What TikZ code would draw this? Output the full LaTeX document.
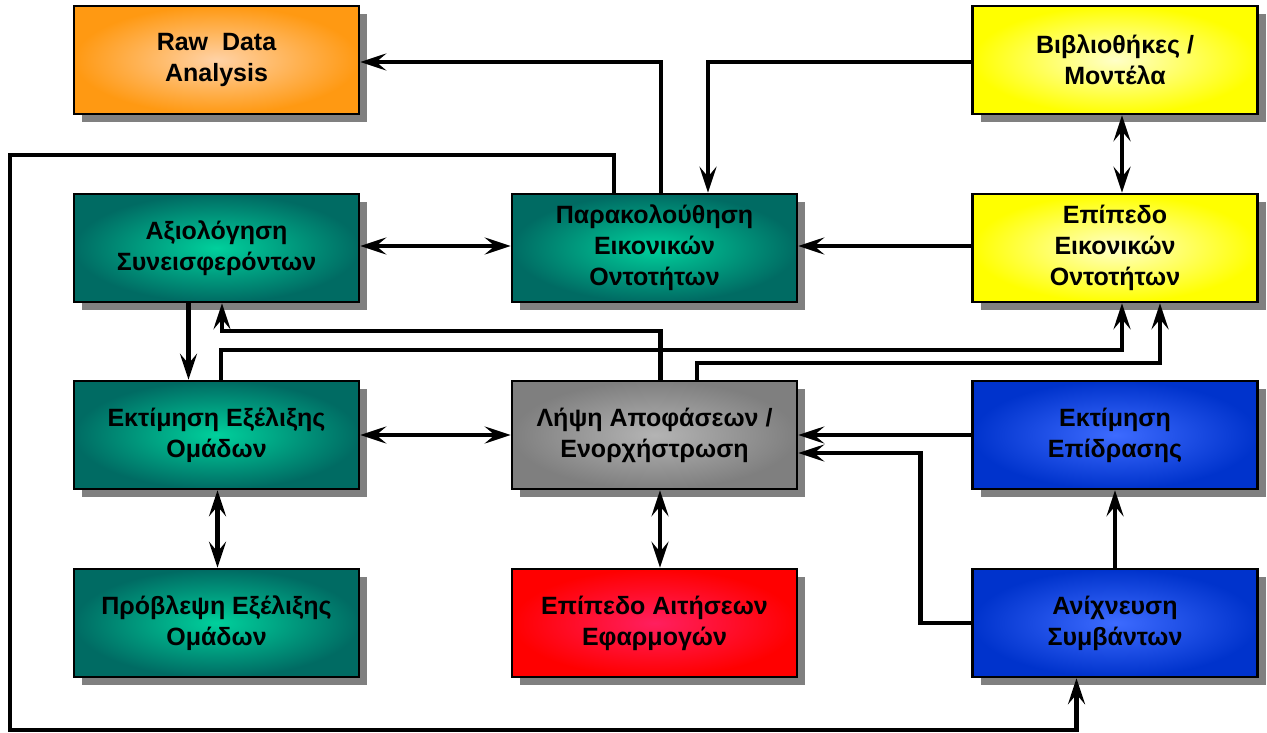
\documentclass[tikz,border=0pt]{standalone}
\usepackage{fontspec}
\setmainfont{Liberation Sans}
\usetikzlibrary{arrows.meta,shadows}
\definecolor{shadowgray}{HTML}{808080}
\definecolor{orOut}{HTML}{FF9912}
\definecolor{orIn}{HTML}{FFD2A6}
\definecolor{tlOut}{HTML}{006B63}
\definecolor{tlIn}{HTML}{00D09C}
\definecolor{yeOut}{HTML}{FFFF00}
\definecolor{yeIn}{HTML}{FFFFC8}
\definecolor{grOut}{HTML}{7F7F7F}
\definecolor{grIn}{HTML}{B4B4B4}
\definecolor{blOut}{HTML}{0033CC}
\definecolor{blIn}{HTML}{3D6BFF}
\definecolor{rdOut}{HTML}{FF0000}
\definecolor{rdIn}{HTML}{FF1F5F}
\begin{document}
\begin{tikzpicture}[x=1pt,y=-1pt,
  box/.style={draw=black, line width=2.5pt, minimum width=285pt, minimum height=108pt,
    align=center, inner sep=2pt,
    font=\fontsize{25}{31}\selectfont\bfseries,
    drop shadow={shadow xshift=8pt, shadow yshift=-8pt, fill=shadowgray, opacity=1}},
  orangebox/.style={box, inner color=orIn, outer color=orOut},
  tealbox/.style={box, inner color=tlIn, outer color=tlOut},
  yellowbox/.style={box, inner color=yeIn, outer color=yeOut},
  greybox/.style={box, inner color=grIn, outer color=grOut},
  bluebox/.style={box, inner color=blIn, outer color=blOut},
  redbox/.style={box, inner color=rdIn, outer color=rdOut},
  tip/.tip={Stealth[length=26pt,width=17pt,inset=10pt]},
  conn/.style={line width=4.5pt, -tip},
  dbl/.style={line width=4.5pt, tip-tip},
]
\useasboundingbox (0,0) rectangle (1267,733);

% nodes
\node[orangebox] (raw)  at (216.5,60)  {Raw~ Data\\Analysis};
\node[yellowbox] (lib)  at (1115,60)   {Βιβλιοθήκες /\\Μοντέλα};
\node[tealbox]   (eval) at (216.5,248) {Αξιολόγηση\\Συνεισφερόντων};
\node[tealbox]   (mon)  at (654.5,248) {Παρακολούθηση\\Εικονικών\\Οντοτήτων};
\node[yellowbox] (vel)  at (1115,248)  {Επίπεδο\\Εικονικών\\Οντοτήτων};
\node[tealbox]   (evo)  at (216.5,435) {Εκτίμηση Εξέλιξης\\Ομάδων};
\node[greybox]   (dec)  at (654.5,435) {Λήψη Αποφάσεων /\\Ενορχήστρωση};
\node[bluebox]   (imp)  at (1115,435)  {Εκτίμηση\\Επίδρασης};
\node[tealbox]   (pred) at (216.5,623) {Πρόβλεψη Εξέλιξης\\Ομάδων};
\node[redbox]    (app)  at (654.5,623) {Επίπεδο Αιτήσεων\\Εφαρμογών};
\node[bluebox]   (det)  at (1115,623)  {Ανίχνευση\\Συμβάντων};

\coordinate (loopTL) at (10,155);
\coordinate (loopBL) at (10,730);

% connectors
\draw[conn] ([xshift=6.5pt]mon.north) |- ([yshift=-2pt]raw.east);
\draw[conn] ([yshift=-2pt]lib.west) -| ([xshift=53.5pt]mon.north);
\draw[dbl]  ([xshift=7pt]lib.south) -- ([xshift=7pt]vel.north);
\draw[conn] ([yshift=2pt]vel.west) -- ([yshift=2pt]mon.east);
\draw[dbl]  ([yshift=2pt]eval.east) -- ([yshift=2pt]mon.west);
\draw[conn] ([xshift=-40.5pt]mon.north) |- (loopTL) -- (loopBL) -| ([xshift=-38.5pt]det.south);
\draw[conn] ([xshift=-28pt]eval.south) -- ([xshift=-28pt]evo.north);
\draw[conn] ([xshift=6pt]dec.north) -- ++(0,-49) -| ([xshift=5.5pt]eval.south);
\draw[conn] ([xshift=4.5pt]evo.north) -- ++(0,-30) -| ([xshift=7pt]vel.south);
\draw[conn] ([xshift=42.5pt]dec.north) -- ++(0,-17) -| ([xshift=45pt]vel.south);
\draw[dbl]  (evo.east) -- (dec.west);
\draw[conn] (imp.west) -- (dec.east);
\draw[conn] (det.west) -- ++(-51,0) |- ([yshift=-18pt]dec.east);
\draw[conn] (det.north) -- (imp.south);
\draw[dbl]  ([xshift=5.5pt]dec.south) -- ([xshift=5.5pt]app.north);
\draw[dbl]  ([xshift=1pt]evo.south) -- ([xshift=1pt]pred.north);
\end{tikzpicture}
\end{document}
